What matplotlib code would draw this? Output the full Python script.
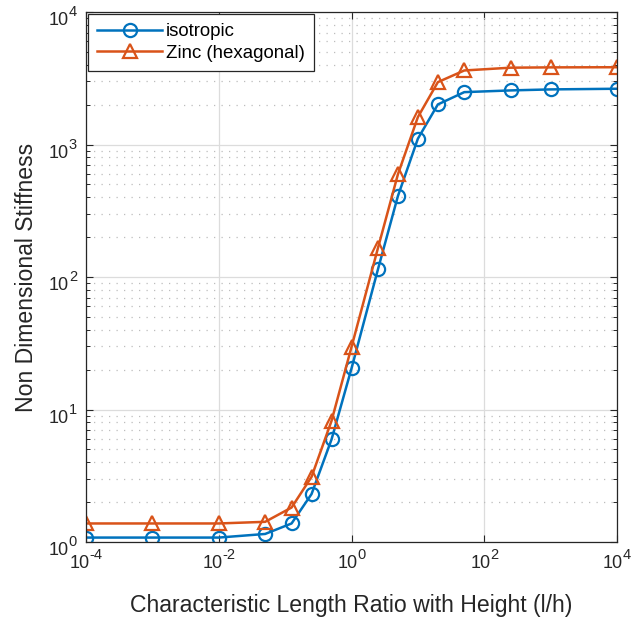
import matplotlib
matplotlib.use("Agg")
import matplotlib.pyplot as plt
import numpy as np
from matplotlib.ticker import LogLocator, NullFormatter, NullLocator

# stiffness vs. l/h for the two materials
ratio = [1e-4, 1e-3, 1e-2, 0.05, 0.125, 0.25, 0.5, 1, 2.5, 5, 10, 20, 50, 250, 1000, 1e4]
iso = [1.08, 1.08, 1.08, 1.15, 1.38, 2.30, 5.94, 20.4, 114, 408, 1106, 2006, 2484, 2560, 2605, 2635]
zinc = [1.38, 1.38, 1.38, 1.42, 1.82, 3.10, 8.2, 29.6, 165, 595, 1610, 2956, 3620, 3800, 3820, 3830]
labels = ["isotropic", "Zinc (hexagonal)"]
xticks = [1e-4, 1e-2, 1, 1e2, 1e4]
yticks = [1, 10, 100, 1000, 1e4]

BLUE = "#0072BD"
ORANGE = "#D95319"
AX = "#262626"
FS_BASE, FS_EXP = 13, 10.5     # "10" and its exponent, pt
RAISE = 6.5                    # exponent baseline above the "10" baseline, pt

plt.rcParams["font.family"] = ["Liberation Sans", "DejaVu Sans"]


def exp_width(s, size):
    # rough advance widths for Liberation Sans digits / hyphen
    return sum(0.333 if c == "-" else 0.556 for c in s) * size


def pow10_label(ax, v, axis):
    e = str(int(round(np.log10(v))))
    w10 = 2 * 0.556 * FS_BASE
    we = exp_width(e, FS_EXP)
    kw = dict(textcoords="offset points", color=AX, va="baseline", annotation_clip=False)
    if axis == "x":
        tr = ax.get_xaxis_transform()
        x0 = -(w10 + we) / 2
        ax.annotate("10", (v, 0), xycoords=tr, xytext=(x0, -18.7), ha="left", fontsize=FS_BASE, **kw)
        ax.annotate(e, (v, 0), xycoords=tr, xytext=(x0 + w10, -18.7 + RAISE), ha="left", fontsize=FS_EXP, **kw)
    else:
        tr = ax.get_yaxis_transform()
        ax.annotate(e, (0, v), xycoords=tr, xytext=(-6.5, -9.4 + RAISE), ha="right", fontsize=FS_EXP, **kw)
        ax.annotate("10", (0, v), xycoords=tr, xytext=(-6.5 - we, -9.4), ha="right", fontsize=FS_BASE, **kw)


fig = plt.figure(figsize=(6.33, 6.24), dpi=100)
ax = fig.add_axes([86 / 633, 1 - 542 / 624, 531 / 633, 530 / 624])

ax.plot(ratio, iso, "-o", color=BLUE, lw=1.8, ms=9.5, mew=1.6, mfc="none", label=labels[0])
ax.plot(ratio, zinc, "-^", color=ORANGE, lw=1.8, ms=10.5, mew=1.6, mfc="none", label=labels[1])

ax.set_xscale("log")
ax.set_yscale("log")
ax.set_xlim(1e-4, 1e4)
ax.set_ylim(1, 1e4)

ax.set_xticks(xticks)
ax.xaxis.set_minor_locator(NullLocator())
ax.set_yticks(yticks)
ax.yaxis.set_minor_locator(LogLocator(base=10, subs=range(2, 10), numticks=20))
ax.yaxis.set_minor_formatter(NullFormatter())
ax.set_xticklabels([])
ax.set_yticklabels([])
for v in xticks:
    pow10_label(ax, v, "x")
for v in yticks:
    pow10_label(ax, v, "y")

ax.grid(True, which="major", color="#dcdcdc", lw=0.9, ls="-")
ax.grid(True, which="minor", axis="y", color="#bdbdbd", lw=0.9, ls=(0, (1, 5)))
ax.set_axisbelow(True)

for s in ax.spines.values():
    s.set_color(AX)
    s.set_linewidth(0.9)
ax.tick_params(which="both", direction="in", top=True, right=True, colors=AX)
ax.tick_params(which="major", length=5, width=0.8)
ax.tick_params(which="minor", length=3, width=0.7)

ax.set_xlabel("Characteristic Length Ratio with Height (l/h)", fontsize=16.6, color=AX)
ax.set_ylabel("Non Dimensional Stiffness", fontsize=16.6, color=AX)
ax.xaxis.set_label_coords(0.5, -0.099)
ax.yaxis.set_label_coords(-0.09, 0.5)

leg = ax.legend(loc="upper left", fontsize=13.4, frameon=True, fancybox=False, framealpha=1,
                edgecolor=AX, handlelength=3.5, borderaxespad=0.1, borderpad=0.5,
                labelspacing=0.25, handletextpad=0.2)
leg.get_frame().set_linewidth(0.9)

fig.savefig("out.png", dpi=100)
